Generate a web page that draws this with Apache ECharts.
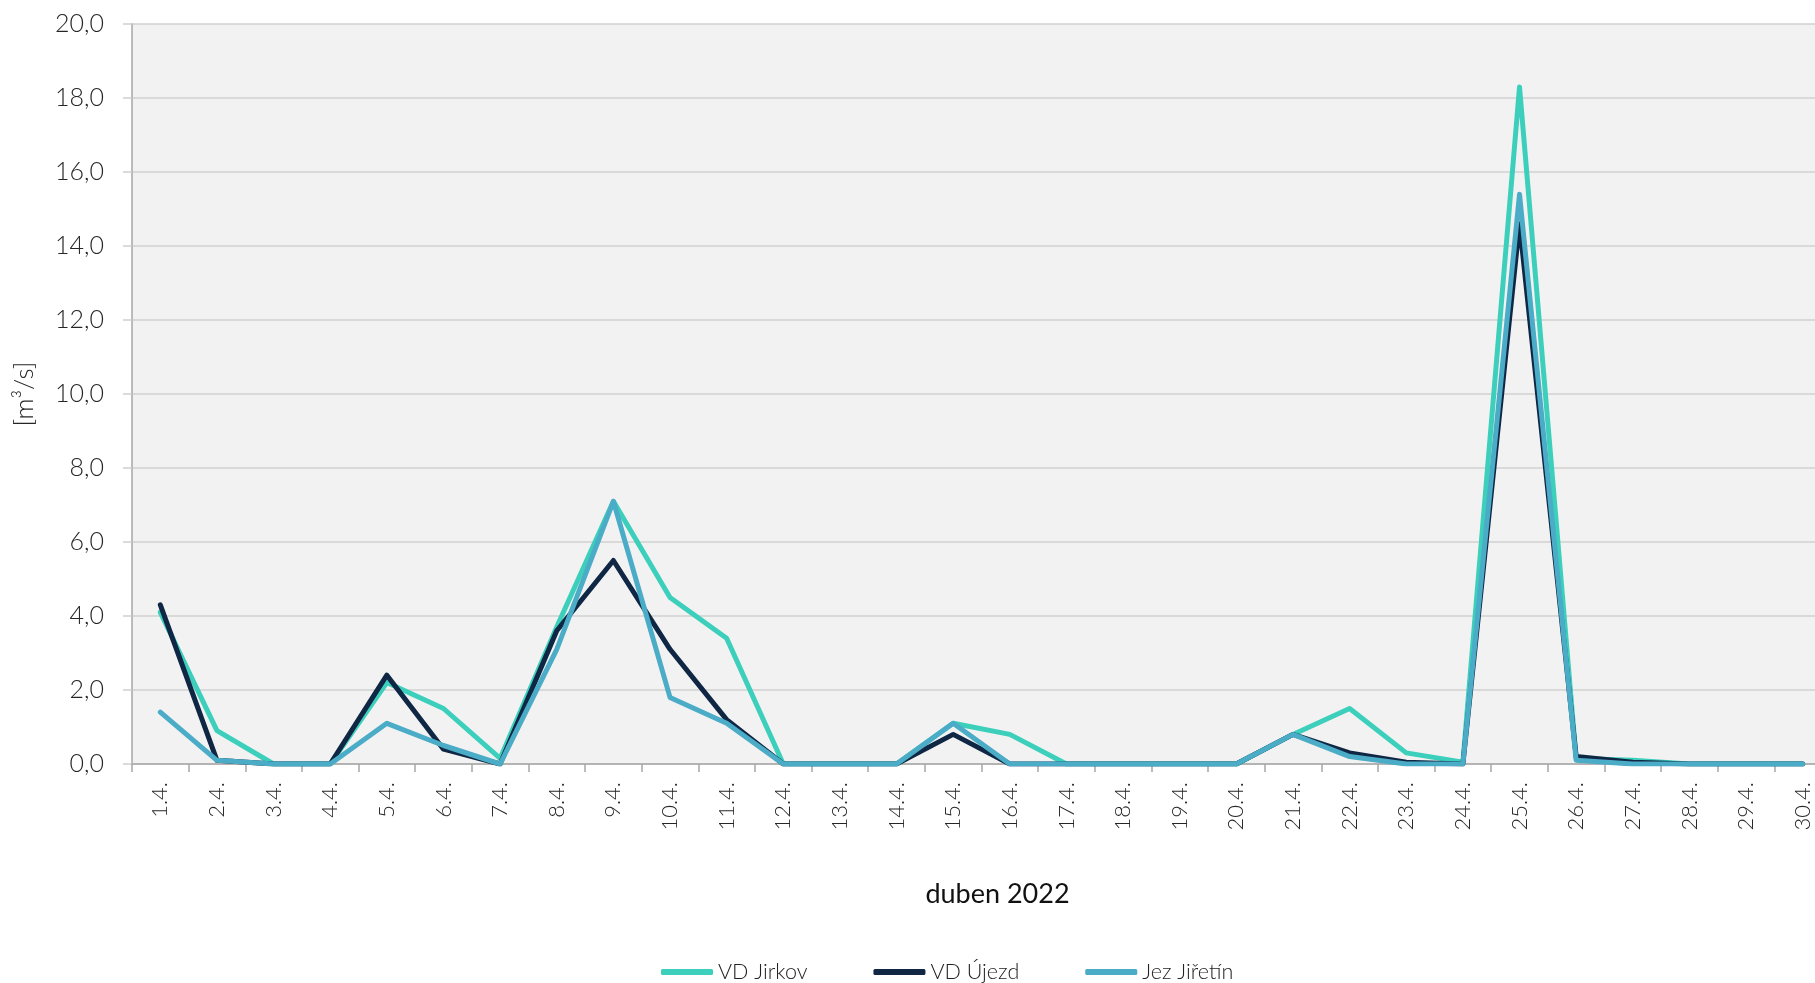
<!DOCTYPE html>
<html>
<head>
<meta charset="utf-8">
<script src="https://cdn.jsdelivr.net/npm/echarts@6.0.0/dist/echarts.min.js"></script>
<style>
html,body{margin:0;padding:0;background:#fff;overflow:hidden;width:1815px;height:983px;}
#c{width:1835px;height:983px;}
</style>
</head>
<body>
<div id="c"></div>
<script>
const categories = ['1.4.','2.4.','3.4.','4.4.','5.4.','6.4.','7.4.','8.4.','9.4.','10.4.','11.4.','12.4.','13.4.','14.4.','15.4.','16.4.','17.4.','18.4.','19.4.','20.4.','21.4.','22.4.','23.4.','24.4.','25.4.','26.4.','27.4.','28.4.','29.4.','30.4.'];
const vdJirkov = [4.1,0.9,0,0,2.2,1.5,0.15,3.7,7.1,4.5,3.4,0,0,0,1.1,0.8,0,0,0,0,0.8,1.5,0.3,0.05,18.3,0.15,0.1,0,0,0];
const vdUjezd  = [4.3,0.1,0,0,2.4,0.4,0,3.6,5.5,3.1,1.2,0,0,0,0.8,0,0,0,0,0,0.8,0.3,0.05,0,14.6,0.2,0.05,0,0,0];
const jezJiretin = [1.4,0.1,0,0,1.1,0.5,0,3.1,7.1,1.8,1.1,0,0,0,1.1,0,0,0,0,0,0.8,0.2,0,0,15.4,0.1,0,0,0,0];
const seriesNames = ['VD Jirkov','VD Újezd','Jez Jiřetín'];
const yTicks = {min:0, max:20, interval:2};

const FONT = 'Lato';
const chart = echarts.init(document.getElementById('c'), null, {renderer:'canvas'});
function mk(name, data, color){
  return {
    name, type:'line', data, showSymbol:false, symbol:'none',
    lineStyle:{color, width:5, cap:'round', join:'round'},
    itemStyle:{color},
    animation:false
  };
}
chart.setOption({
  animation:false,
  backgroundColor:'#ffffff',
  textStyle:{fontFamily:FONT},
  grid:{left:132, right:4, top:24, bottom:219, outerBoundsMode:'none', containLabel:false,
        show:true, backgroundColor:'#f2f2f2', borderWidth:0},
  legend:{
    left:656, top:956, icon:'roundRect', itemWidth:52, itemHeight:6, itemGap:66,
    textStyle:{fontFamily:FONT, fontWeight:300, fontSize:21.5, color:'#222'},
    data:seriesNames
  },
  xAxis:{
    type:'category', data:categories, boundaryGap:true,
    name:'duben 2022', nameLocation:'middle', nameGap:117,
    nameTextStyle:{fontFamily:FONT, fontSize:27, color:'#111', padding:[0,0,0,32]},
    axisLine:{lineStyle:{color:'#a6a6a6', width:1.5}},
    axisTick:{show:true, length:8, alignWithLabel:false, lineStyle:{color:'#a6a6a6', width:1.5}},
    axisLabel:{interval:0, rotate:90, margin:18, fontFamily:FONT, fontWeight:300, fontSize:22, color:'#262626'},
    splitLine:{show:false}
  },
  yAxis:{
    type:'value', min:yTicks.min, max:yTicks.max, interval:yTicks.interval,
    name:'[m³/s]', nameLocation:'middle', nameRotate:90, nameGap:94,
    nameTextStyle:{fontFamily:FONT, fontWeight:300, fontSize:26, color:'#262626'},
    axisLine:{show:true, lineStyle:{color:'#a6a6a6', width:1.5}},
    axisTick:{show:true, length:9, lineStyle:{color:'#d0d0d0', width:1.5}},
    axisLabel:{margin:28, fontFamily:FONT, fontWeight:300, fontSize:25, color:'#262626',
      formatter:v=>v.toFixed(1).replace('.',',')},
    splitLine:{show:true, lineStyle:{color:'#d0d0d0', width:1.5}}
  },
  series:[
    mk(seriesNames[0], vdJirkov, '#3ccfbb'),
    mk(seriesNames[1], vdUjezd, '#0f2744'),
    mk(seriesNames[2], jezJiretin, '#4aacc6')
  ]
});
</script>
</body>
</html>
